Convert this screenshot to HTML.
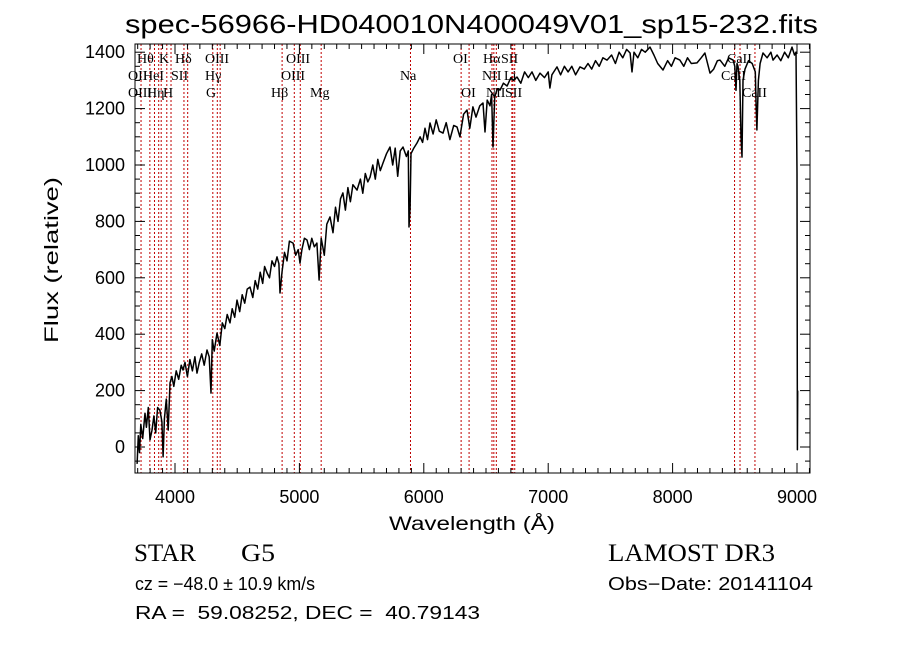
<!DOCTYPE html>
<html><head><meta charset="utf-8"><style>
body{margin:0;background:#fff;}
svg{display:block;}
text{fill:#000;white-space:pre;}
</style></head><body>
<svg id="chart" width="900" height="649" viewBox="0 0 900 649" xmlns="http://www.w3.org/2000/svg" xml:space="preserve">
<rect width="900" height="649" fill="#fff"/>
<text x="125" y="33" font-family="Liberation Sans, sans-serif" font-size="26" textLength="693" lengthAdjust="spacingAndGlyphs">spec-56966-HD040010N400049V01_sp15-232.fits</text>
<g id="lines"></g>
<g id="linelabels" font-family="Liberation Serif, serif" font-size="14"></g>
<path id="spec" fill="none" stroke="#000" stroke-width="1.5" stroke-linejoin="round"/>
<rect x="135" y="44" width="675" height="429" fill="none" stroke="#000" stroke-width="1"/>
<g id="ticks" stroke="#000" stroke-width="1"></g>
<g id="ticklabels" font-family="Liberation Sans, sans-serif" font-size="18"></g>
<text x="389" y="530" font-family="Liberation Sans, sans-serif" font-size="19" textLength="166" lengthAdjust="spacingAndGlyphs">Wavelength (Å)</text>
<text transform="translate(58,260) rotate(-90)" font-family="Liberation Sans, sans-serif" font-size="19" text-anchor="middle" textLength="166" lengthAdjust="spacingAndGlyphs">Flux (relative)</text>
<text x="134" y="561" font-family="Liberation Serif, serif" font-size="25" textLength="62" lengthAdjust="spacingAndGlyphs">STAR</text>
<text x="241" y="561" font-family="Liberation Serif, serif" font-size="25" textLength="34" lengthAdjust="spacingAndGlyphs">G5</text>
<text x="608" y="561" font-family="Liberation Serif, serif" font-size="25" textLength="167" lengthAdjust="spacingAndGlyphs">LAMOST DR3</text>
<text x="135" y="590" font-family="Liberation Sans, sans-serif" font-size="18" textLength="180" lengthAdjust="spacingAndGlyphs">cz = −48.0 ± 10.9 km/s</text>
<text x="608" y="590" font-family="Liberation Sans, sans-serif" font-size="18" textLength="205" lengthAdjust="spacingAndGlyphs">Obs−Date: 20141104</text>
<text x="135" y="619" font-family="Liberation Sans, sans-serif" font-size="18" textLength="345" lengthAdjust="spacingAndGlyphs">RA =  59.08252, DEC =  40.79143</text>
</svg>
<script>
const wavelengths=[3695,3705,3715,3725,3740,3759,3770,3785,3799,3815,3830,3845,3860,3879,3895,3904,3915,3930,3945,3960,3975,3990,4010,4030,4050,4064,4080,4100,4120,4140,4160,4177,4195,4215,4235,4257,4275,4289,4300,4315,4338,4360,4380,4400,4420,4442,4460,4480,4498,4520,4540,4560,4580,4603,4625,4645,4665,4685,4705,4720,4740,4760,4780,4800,4820,4835,4844,4860,4880,4900,4920,4949,4970,4990,5005,5020,5040,5061,5080,5100,5120,5141,5158,5175,5200,5220,5246,5270,5290,5310,5330,5350,5370,5390,5410,5430,5463,5490,5510,5530,5550,5568,5590,5610,5630,5650,5672,5700,5728,5750,5770,5790,5810,5833,5860,5875,5881,5890,5897,5920,5945,5970,5990,6010,6030,6050,6075,6100,6125,6154,6180,6210,6240,6267,6290,6320,6347,6370,6395,6420,6450,6476,6492,6510,6532,6545,6556,6570,6590,6613,6640,6670,6700,6720,6749,6780,6810,6840,6870,6900,6934,6970,7000,7014,7030,7071,7100,7130,7160,7190,7220,7256,7290,7320,7350,7380,7410,7440,7473,7510,7540,7570,7600,7630,7658,7674,7690,7720,7750,7780,7818,7850,7880,7923,7960,7990,8020,8059,8090,8120,8150,8196,8230,8260,8301,8330,8360,8381,8420,8450,8486,8500,8510,8518,8526,8540,8550,8558,8566,8582,8610,8640,8665,8672,8678,8690,8703,8727,8760,8790,8807,8840,8870,8900,8930,8960,8980,8992,9000,9003,9006];
const fluxes=[-60,40,-20,80,30,120,70,140,25,60,110,50,140,130,90,-35,100,170,60,227,250,215,270,240,290,273,300,250,310,270,320,262,300,330,290,344,320,191,380,340,404,360,440,420,470,440,490,460,521,480,540,510,560,567,530,590,560,620,580,640,617,600,660,640,674,650,546,620,690,660,730,723,680,700,652,700,740,734,700,740,710,723,592,740,680,790,816,760,850,800,880,901,840,920,870,930,911,950,900,970,940,957,1000,950,1020,980,1007,1040,1064,1000,1060,960,1050,1064,1030,1050,780,850,1040,1060,1078,1100,1080,1130,1090,1149,1110,1160,1120,1113,1150,1090,1140,1135,1100,1180,1195,1130,1206,1170,1210,1220,1117,1230,1210,1250,1064,1240,1270,1266,1290,1280,1310,1300,1312,1290,1330,1310,1330,1300,1326,1310,1330,1273,1320,1348,1320,1350,1330,1350,1320,1348,1340,1360,1340,1370,1350,1380,1372,1390,1360,1400,1380,1410,1397,1330,1400,1380,1410,1400,1418,1390,1360,1337,1370,1350,1380,1372,1350,1380,1360,1362,1380,1397,1326,1340,1370,1372,1350,1380,1372,1350,1265,1360,1350,1300,1100,1028,1300,1340,1370,1360,1330,1200,1124,1300,1360,1397,1380,1400,1372,1390,1370,1400,1380,1418,1390,1400,971,-10,200];
const lineWaves=[3727,3798,3835,3869,3889,3934,3968,4072,4102,4304,4340,4363,4861,4959,5007,5175,5893,6300,6364,6548,6563,6583,6708,6716,6731,8498,8542,8662];
const lineNames=["OII","Hθ","Hη","OIII","HeI","K","H","SII","Hδ","G","Hγ","OIII","Hβ","OIII","OIII","Mg","Na","OI","OI","NII","Hα","NII","Li","SII","SII","CaII","CaII","CaII"];
const lineRows=[1,0,2,2,1,0,2,1,0,2,1,0,2,1,0,2,1,0,2,2,0,1,1,0,2,1,0,2];
const labelLeft=[128,137,147,128,143,159,163,171,175,206,205,205,271,281,286,310,400,453,461,486,483,482,504,501,505,721,727,742];
const xTicks=[4000,5000,6000,7000,8000,9000];
const yTicks=[0,200,400,600,800,1000,1200,1400];

const X0=135,X1=810,Y0=44,Y1=473;
const xs=w=>175+(w-4000)*0.1244;
const ys=f=>447-f*0.282;
const NS="http://www.w3.org/2000/svg";
function mk(tag,attrs,parent){const e=document.createElementNS(NS,tag);for(const k in attrs)e.setAttribute(k,attrs[k]);parent.appendChild(e);return e;}

let d="";
wavelengths.forEach((w,i)=>{let y=Math.max(Y0,Math.min(Y1,ys(fluxes[i])));d+=(i?"L":"M")+xs(w).toFixed(1)+","+y.toFixed(1);});
document.getElementById("spec").setAttribute("d",d);

const lg=document.getElementById("lines"),ll=document.getElementById("linelabels");
lineWaves.forEach((w,i)=>{
  const x=xs(w);
  const l=mk("line",{x1:x,x2:x,y1:Y0,y2:Y1,stroke:"#c00000","stroke-width":1,"stroke-dasharray":"2,2"},lg);
  
  
  const t=mk("text",{x:labelLeft[i],y:63+lineRows[i]*17},ll);
  t.textContent=lineNames[i];
  
  
});

const tg=document.getElementById("ticks"),tl=document.getElementById("ticklabels");
for(let w=3700;w<=9100;w+=100){
  const x=xs(w);if(x<X0||x>X1)continue;
  const len=(w%1000===0)?10:5;
  mk("line",{x1:x,x2:x,y1:Y1,y2:Y1-len},tg);
  mk("line",{x1:x,x2:x,y1:Y0,y2:Y0+len},tg);
}
for(let f=-50;f<=1450;f+=50){
  const y=ys(f);if(y<Y0||y>Y1)continue;
  const len=(f%200===0)?10:5;
  mk("line",{x1:X0,x2:X0+len,y1:y,y2:y},tg);
  mk("line",{x1:X1,x2:X1-len,y1:y,y2:y},tg);
}
xTicks.forEach(w=>{const t=mk("text",{x:xs(w),y:503,"text-anchor":"middle"},tl);t.textContent=w;
  
  });
yTicks.forEach(f=>{const t=mk("text",{x:125,y:ys(f)+6,"text-anchor":"end"},tl);t.textContent=f;
  
  });
</script>
</body></html>
